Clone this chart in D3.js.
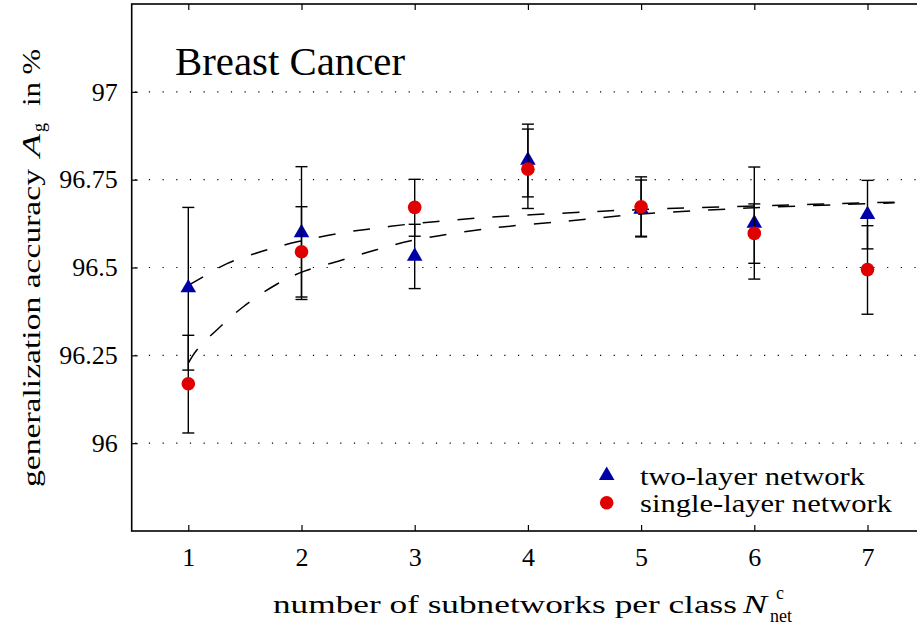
<!DOCTYPE html>
<html>
<head>
<meta charset="utf-8">
<script src="https://cdn.jsdelivr.net/npm/d3@7/dist/d3.min.js"></script>
<style>
  html, body { margin: 0; padding: 0; background: #fff; }
  svg { display: block; }
  text { font-family: "Liberation Serif", "DejaVu Serif", serif; fill: #000; }
</style>
</head>
<body>
<svg id="chart" width="917" height="626"></svg>
<script>
// ---------- data ----------
const categories = [1, 2, 3, 4, 5, 6, 7];
const xTickLabels = ["1", "2", "3", "4", "5", "6", "7"];
const yTickValues = [96, 96.25, 96.5, 96.75, 97];
const yTickLabels = ["96", "96.25", "96.5", "96.75", "97"];

const twoLayerMean = [96.442, 96.599, 96.532, 96.805, 96.666, 96.626, 96.651];
const twoLayerLow  = [96.208, 96.409, 96.440, 96.701, 96.587, 96.467, 96.553];
const twoLayerHigh = [96.671, 96.787, 96.623, 96.908, 96.749, 96.786, 96.748];

const singleLayerMean = [96.169, 96.545, 96.671, 96.780, 96.673, 96.597, 96.494];
const singleLayerLow  = [96.029, 96.416, 96.589, 96.668, 96.589, 96.512, 96.367];
const singleLayerHigh = [96.307, 96.673, 96.751, 96.894, 96.758, 96.681, 96.619];

// dashed trend curves
const twoLayerFitX = [1, 1.135, 1.342, 1.652, 1.962, 2.345, 2.611, 2.995, 3.2, 3.566, 4.38, 5.0, 6.0, 7.24];
const twoLayerFitY = [96.449, 96.474, 96.511, 96.546, 96.573, 96.598, 96.610, 96.625, 96.631, 96.641, 96.656, 96.665, 96.675, 96.686];
const singleLayerFitX = [1, 1.077, 1.254, 1.489, 1.785, 2.02, 2.345, 2.67, 2.995, 3.655, 4.38, 5.0, 6.0, 7.24];
const singleLayerFitY = [96.228, 96.266, 96.323, 96.389, 96.453, 96.489, 96.520, 96.551, 96.578, 96.611, 96.633, 96.652, 96.670, 96.684];

const seriesNames = ["two-layer network", "single-layer network"];
const titleText = "Breast Cancer";

// ---------- layout ----------
const svg = d3.select("#chart");
const pLeft = 131.7, pTop = 4, pRight = 924.1, pBottom = 531;
const x = d3.scaleLinear().domain([0.5, 7.5]).range([pLeft, pRight]);
const y = d3.scaleLinear().domain([95.75, 97.25]).range([pBottom, pTop]);
const blue = "#0000a8", red = "#e00000";

// grid (dotted)
svg.append("g").selectAll("line").data(yTickValues).join("line")
  .attr("x1", pLeft + 3.5).attr("x2", 917)
  .attr("y1", d => y(d)).attr("y2", d => y(d))
  .attr("stroke", "#000").attr("stroke-width", 1.1)
  .attr("stroke-dasharray", "1.2,12.47");

// axes
const fontSize = 26;
const gL = svg.append("g").attr("transform", `translate(${pLeft},0)`)
  .call(d3.axisLeft(y).tickValues(yTickValues)
    .tickFormat((d, i) => yTickLabels[i]).tickSizeInner(-6).tickSizeOuter(0).tickPadding(14));
const gB = svg.append("g").attr("transform", `translate(0,${pBottom})`)
  .call(d3.axisBottom(x).tickValues(categories)
    .tickFormat((d, i) => xTickLabels[i]).tickSizeInner(-6).tickSizeOuter(0).tickPadding(17));
const gT = svg.append("g").attr("transform", `translate(0,${pTop})`)
  .call(d3.axisTop(x).tickValues(categories).tickFormat("").tickSizeInner(-6).tickSizeOuter(0));
const gR = svg.append("g").attr("transform", `translate(${pRight},0)`)
  .call(d3.axisRight(y).tickValues(yTickValues).tickFormat("").tickSizeInner(-6).tickSizeOuter(0));
[gL, gB, gT, gR].forEach(g => {
  g.select(".domain").remove();
  g.selectAll(".tick line").attr("stroke", "#000").attr("stroke-width", 1.2);
  g.selectAll("text").attr("font-size", fontSize).attr("font-family", "Liberation Serif");
});

// frame
svg.append("rect").attr("x", pLeft).attr("y", pTop)
  .attr("width", pRight - pLeft).attr("height", pBottom - pTop)
  .attr("fill", "none").attr("stroke", "#000").attr("stroke-width", 1.6);

// dashed curves
const line = d3.line().x(d => x(d[0])).y(d => y(d[1])).curve(d3.curveCatmullRom);
[[twoLayerFitX, twoLayerFitY], [singleLayerFitX, singleLayerFitY]].forEach(([xs, ys]) => {
  svg.append("path").datum(xs.map((v, i) => [v, ys[i]]))
    .attr("d", line).attr("fill", "none").attr("stroke", "#000")
    .attr("stroke-width", 1.5).attr("stroke-dasharray", "17,18");
});

// error bars + markers
const triangle = d3.symbol().type(d3.symbolTriangle).size(105);
function drawSeries(mean, low, high, color, shape) {
  const g = svg.append("g");
  const data = categories.map((c, i) => ({ c, m: mean[i], lo: low[i], hi: high[i] }));
  g.selectAll("line.v").data(data).join("line").attr("class", "v")
    .attr("x1", d => x(d.c)).attr("x2", d => x(d.c))
    .attr("y1", d => y(d.lo)).attr("y2", d => y(d.hi))
    .attr("stroke", "#000").attr("stroke-width", 1.4);
  ["lo", "hi"].forEach(k => {
    g.selectAll("line." + k).data(data).join("line").attr("class", k)
      .attr("x1", d => x(d.c) - 6).attr("x2", d => x(d.c) + 6)
      .attr("y1", d => y(d[k])).attr("y2", d => y(d[k]))
      .attr("stroke", "#000").attr("stroke-width", 1.4);
  });
  if (shape === "tri") {
    g.selectAll("path.m").data(data).join("path").attr("class", "m")
      .attr("d", triangle).attr("fill", color)
      .attr("transform", d => `translate(${x(d.c)},${y(d.m)})`);
  } else {
    g.selectAll("circle.m").data(data).join("circle").attr("class", "m")
      .attr("cx", d => x(d.c)).attr("cy", d => y(d.m)).attr("r", 6.8).attr("fill", color);
  }
}
drawSeries(twoLayerMean, twoLayerLow, twoLayerHigh, blue, "tri");
drawSeries(singleLayerMean, singleLayerLow, singleLayerHigh, red, "circ");

// title
svg.append("text").attr("x", 175).attr("y", 75).attr("font-size", 40)
  .attr("textLength", 230).attr("lengthAdjust", "spacingAndGlyphs").text(titleText);

// legend
svg.append("path").attr("d", triangle).attr("fill", blue)
  .attr("transform", `translate(606.7,475.5)`);
svg.append("circle").attr("cx", 606.7).attr("cy", 502.7).attr("r", 6.8).attr("fill", red);
svg.append("text").attr("x", 640).attr("y", 485).attr("font-size", fontSize)
  .attr("textLength", 225).attr("lengthAdjust", "spacingAndGlyphs").text(seriesNames[0]);
svg.append("text").attr("x", 640).attr("y", 512).attr("font-size", fontSize)
  .attr("textLength", 252).attr("lengthAdjust", "spacingAndGlyphs").text(seriesNames[1]);

// x axis label
svg.append("text").attr("x", 273).attr("y", 613).attr("font-size", fontSize)
  .attr("textLength", 464).attr("lengthAdjust", "spacingAndGlyphs")
  .text("number of subnetworks per class");
svg.append("text").attr("x", 743).attr("y", 613).attr("font-size", fontSize)
  .attr("font-style", "italic").attr("textLength", 24).attr("lengthAdjust", "spacingAndGlyphs").text("N");
svg.append("text").attr("x", 776).attr("y", 599).attr("font-size", 18).text("c");
svg.append("text").attr("x", 770).attr("y", 622).attr("font-size", 18).text("net");

// y axis label (rotated)
const yl = svg.append("g").attr("transform", "translate(40,0) rotate(-90)");
yl.append("text").attr("x", -487).attr("y", 0).attr("font-size", fontSize)
  .attr("textLength", 318).attr("lengthAdjust", "spacingAndGlyphs")
  .text("generalization accuracy");
yl.append("text").attr("x", -157).attr("y", 0).attr("font-size", fontSize)
  .attr("font-style", "italic").attr("textLength", 23).attr("lengthAdjust", "spacingAndGlyphs").text("A");
yl.append("text").attr("x", -132).attr("y", 5).attr("font-size", 18).text("g");
yl.append("text").attr("x", -106).attr("y", 0).attr("font-size", fontSize)
  .attr("textLength", 57).attr("lengthAdjust", "spacingAndGlyphs").text("in %");
</script>
</body>
</html>
